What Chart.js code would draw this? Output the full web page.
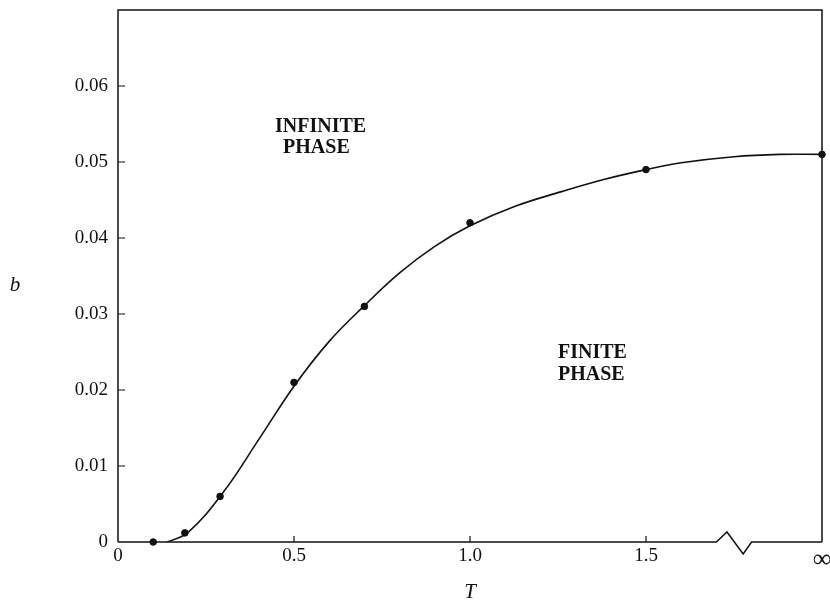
<!DOCTYPE html>
<html lang="en">
<head>
<meta charset="UTF-8">
<title>b vs T phase diagram</title>
<script src="https://cdn.jsdelivr.net/npm/chart.js"></script>
<style>
    body { margin: 0; background: #fff; }
    #wrap { width: 830px; height: 607px; }
</style>
</head>
<body>
<div id="wrap"><canvas id="grafico" width="830" height="607"></canvas></div>
<script>
// measured points (T, b); infinity is plotted at T = 2.0
var pontosT = [0.1, 0.19, 0.29, 0.5, 0.7, 1.0, 1.5, 2.0];
var pontosB = [0.0, 0.0012, 0.006, 0.021, 0.031, 0.042, 0.049, 0.051];

// fitted curve
var curvaT = [0.14, 0.2, 0.3, 0.4, 0.5, 0.6, 0.7, 0.8, 0.9, 1.0, 1.13, 1.26, 1.38, 1.5, 1.6, 1.75, 1.88, 2.0];
var curvaB = [0.0, 0.0013, 0.0066, 0.0135, 0.0205, 0.0264, 0.0311, 0.0354, 0.0389, 0.0416, 0.0442, 0.0461, 0.0477, 0.049, 0.0499, 0.0507, 0.051, 0.051];

var ticksX = [0, 0.5, 1.0, 1.5, 2.0];
var rotulosX = ['0', '0.5', '1.0', '1.5', '\u221E'];
var ticksY = [0, 0.01, 0.02, 0.03, 0.04, 0.05, 0.06];
var rotulosY = ['0', '0.01', '0.02', '0.03', '0.04', '0.05', '0.06'];

var fonte = '"Liberation Serif", "DejaVu Serif", serif';
var cor = '#111';

function juntar(xs, ys) {
    var lista = [];
    for (var i = 0; i < xs.length; i++) lista.push({ x: xs[i], y: ys[i] });
    return lista;
}

// frame with zigzag break on the T axis, inward ticks, titles and region labels
var moldura = {
    id: 'moldura',
    afterDraw: function (chart) {
        var ctx = chart.ctx;
        var a = chart.chartArea;
        var sx = chart.scales.x, sy = chart.scales.y;
        ctx.save();
        ctx.strokeStyle = cor;
        ctx.lineWidth = 1.5;
        ctx.lineJoin = 'miter';

        // left, top, right
        ctx.beginPath();
        ctx.moveTo(a.left, a.bottom);
        ctx.lineTo(a.left, a.top);
        ctx.lineTo(a.right, a.top);
        ctx.lineTo(a.right, a.bottom);
        ctx.stroke();

        // bottom with break
        var y0 = sy.getPixelForValue(0);
        ctx.beginPath();
        ctx.moveTo(a.left, y0);
        ctx.lineTo(sx.getPixelForValue(1.70), y0);
        ctx.lineTo(sx.getPixelForValue(1.73), y0 - 10);
        ctx.lineTo(sx.getPixelForValue(1.776), y0 + 12);
        ctx.lineTo(sx.getPixelForValue(1.80), y0);
        ctx.lineTo(a.right, y0);
        ctx.stroke();

        // ticks pointing inward
        ctx.lineWidth = 1.2;
        ctx.beginPath();
        for (var i = 1; i < ticksY.length; i++) {
            var py = sy.getPixelForValue(ticksY[i]);
            ctx.moveTo(a.left, py);
            ctx.lineTo(a.left + 7, py);
        }
        for (var j = 1; j < ticksX.length - 1; j++) {
            var px = sx.getPixelForValue(ticksX[j]);
            ctx.moveTo(px, y0);
            ctx.lineTo(px, y0 - 6);
        }
        ctx.stroke();

        // axis titles
        ctx.fillStyle = cor;
        ctx.textAlign = 'center';
        ctx.textBaseline = 'middle';
        ctx.font = 'italic 21px ' + fonte;
        ctx.fillText('b', 15, (a.top + a.bottom) / 2 + 9);
        ctx.fillText('T', sx.getPixelForValue(1.0), a.bottom + 50);

        // region labels
        ctx.font = 'bold 20px ' + fonte;
        ctx.textAlign = 'left';
        ctx.fillText('INFINITE', sx.getPixelForValue(0.446), sy.getPixelForValue(0.0546));
        ctx.fillText('PHASE', sx.getPixelForValue(0.469), sy.getPixelForValue(0.0518));
        ctx.fillText('FINITE', sx.getPixelForValue(1.25), sy.getPixelForValue(0.0249));
        ctx.fillText('PHASE', sx.getPixelForValue(1.25), sy.getPixelForValue(0.022));
        ctx.restore();
    }
};

var grafico = new Chart(document.getElementById('grafico').getContext('2d'), {
    type: 'scatter',
    data: {
        datasets: [{
            label: 'curva',
            data: juntar(curvaT, curvaB),
            showLine: true,
            borderColor: cor,
            borderWidth: 1.6,
            tension: 0.4,
            pointRadius: 0,
            pointHoverRadius: 0
        }, {
            label: 'pontos',
            data: juntar(pontosT, pontosB),
            showLine: false,
            backgroundColor: cor,
            borderColor: cor,
            pointRadius: 3.3,
            clip: false
        }]
    },
    options: {
        responsive: false,
        animation: false,
        layout: { padding: { top: 10, right: 8, left: 0, bottom: 0 } },
        plugins: { legend: { display: false }, tooltip: { enabled: false } },
        scales: {
            x: {
                type: 'linear',
                min: 0,
                max: 2.0,
                grid: { display: false, drawTicks: false },
                border: { display: false },
                afterBuildTicks: function (s) { s.ticks = ticksX.map(function (v) { return { value: v }; }); },
                afterFit: function (s) { s.height = 65; s.paddingLeft = 0; s.paddingRight = 0; },
                ticks: {
                    padding: 3,
                    color: cor,
                    maxRotation: 0,
                    autoSkip: false,
                    font: function (c) {
                        return c.index === ticksX.length - 1 ? { family: fonte, size: 26 } : { family: fonte, size: 19 };
                    },
                    callback: function (v, i) { return rotulosX[i]; }
                }
            },
            y: {
                type: 'linear',
                min: 0,
                max: 0.07,
                grid: { display: false, drawTicks: false },
                border: { display: false },
                afterBuildTicks: function (s) { s.ticks = ticksY.map(function (v) { return { value: v }; }); },
                afterFit: function (s) { s.width = 118; s.paddingTop = 0; s.paddingBottom = 0; },
                ticks: {
                    padding: 10,
                    color: cor,
                    autoSkip: false,
                    font: { family: fonte, size: 19 },
                    callback: function (v, i) { return rotulosY[i]; }
                }
            }
        }
    },
    plugins: [moldura]
});
</script>
</body>
</html>
